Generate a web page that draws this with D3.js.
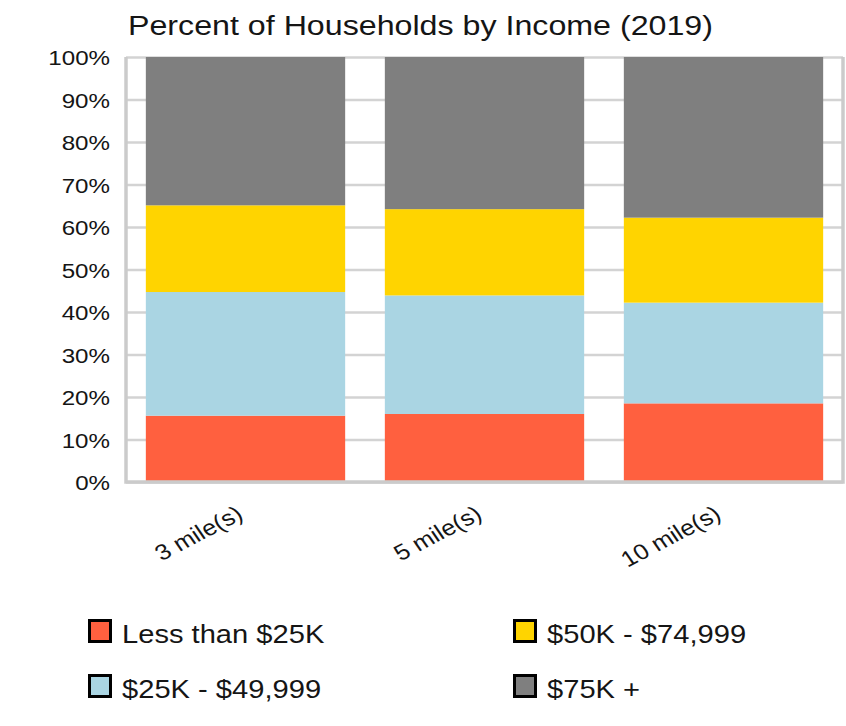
<!DOCTYPE html>
<html>
<head>
<meta charset="utf-8">
<script src="https://cdn.jsdelivr.net/npm/d3@7"></script>
<style>
  html, body { margin: 0; padding: 0; background: #fff; }
  svg { display: block; }
  text { font-family: "Liberation Sans", Arial, sans-serif; fill: #151515; }
</style>
</head>
<body>
<svg id="chart" width="846" height="726"></svg>
<script>
// Household income distribution by radius, percent of households
const categories = ["3 mile(s)", "5 mile(s)", "10 mile(s)"];
const seriesNames = ["Less than $25K", "$25K - $49,999", "$50K - $74,999", "$75K +"];
const under25k = [15.6, 16.0, 18.5];
const from25kTo50k = [29.1, 27.9, 23.7];
const from50kTo75k = [20.4, 20.3, 20.0];
const over75k = [34.9, 35.8, 37.8];
const yTickValues = [0, 10, 20, 30, 40, 50, 60, 70, 80, 90, 100];
const seriesColors = ["#FF603F", "#AAD5E3", "#FFD400", "#7F7F7F"];
const title = "Percent of Households by Income (2019)";

const seriesValues = [under25k, from25kTo50k, from50kTo75k, over75k];
const rows = categories.map((c, i) => {
  const r = { category: c };
  seriesNames.forEach((s, j) => { r[s] = seriesValues[j][i]; });
  return r;
});

const svg = d3.select("#chart");
const stretch = 1.15; // text is drawn slightly wide
const plot = { left: 126, right: 843, top: 57, bottom: 482 };

const x = d3.scaleBand()
  .domain(categories)
  .range([plot.left, plot.right])
  .paddingInner(0.166)
  .paddingOuter(0.083);

const y = d3.scaleLinear().domain([0, 100]).range([plot.bottom, plot.top]);

// Title
svg.append("text")
  .attr("transform", `translate(128,35) scale(${stretch},1)`)
  .attr("font-size", 28)
  .text(title);

// Gridlines and y tick labels
const yAxis = d3.axisLeft(y)
  .tickValues(yTickValues)
  .tickSize(-(plot.right - plot.left))
  .tickPadding(0)
  .tickFormat(d => d + "%");

const gy = svg.append("g")
  .attr("transform", `translate(${plot.left},0)`)
  .call(yAxis);
gy.select(".domain").remove();
gy.selectAll(".tick line")
  .attr("stroke", "#d3d3d3")
  .attr("stroke-width", 2.5);
gy.selectAll(".tick text")
  .attr("x", -16 / stretch)
  .attr("dy", "0.36em")
  .attr("transform", `scale(${stretch},1)`)
  .attr("font-size", 21)
  .attr("fill", "#151515");

// Stacked bars
const stacked = d3.stack().keys(seriesNames)(rows);
const color = d3.scaleOrdinal().domain(seriesNames).range(seriesColors);

svg.append("g")
  .selectAll("g")
  .data(stacked)
  .join("g")
  .attr("fill", d => color(d.key))
  .selectAll("rect")
  .data(d => d)
  .join("rect")
  .attr("x", d => x(d.data.category))
  .attr("width", x.bandwidth())
  .attr("y", d => y(d[1]))
  .attr("height", d => y(d[0]) - y(d[1]));

// Plot frame (left, bottom, right)
svg.append("path")
  .attr("d", `M${plot.left},${plot.top}V${plot.bottom}H${plot.right}V${plot.top}`)
  .attr("fill", "none")
  .attr("stroke", "#cbcbcb")
  .attr("stroke-width", 3.5);

// Rotated category labels
svg.append("g")
  .selectAll("text")
  .data(categories)
  .join("text")
  .attr("transform", d => `translate(${x(d) + x.bandwidth() / 2 - 1},518) scale(${stretch},1) rotate(-31)`)
  .attr("text-anchor", "end")
  .attr("font-size", 22)
  .text(d => d);

// Legend, two columns filled top to bottom
const legend = svg.append("g");
const legendCols = [88, 513];
const legendRows = [631, 686];
seriesNames.forEach((name, i) => {
  const cx = legendCols[Math.floor(i / 2)];
  const cy = legendRows[i % 2];
  const g = legend.append("g");
  g.append("rect")
    .attr("x", cx + 1.5)
    .attr("y", cy - 10.5)
    .attr("width", 21)
    .attr("height", 21)
    .attr("fill", color(name))
    .attr("stroke", "#000")
    .attr("stroke-width", 3);
  g.append("text")
    .attr("transform", `translate(${cx + 34},${cy + 12}) scale(1.12,1)`)
    .attr("font-size", 26)
    .text(name);
});
</script>
</body>
</html>
